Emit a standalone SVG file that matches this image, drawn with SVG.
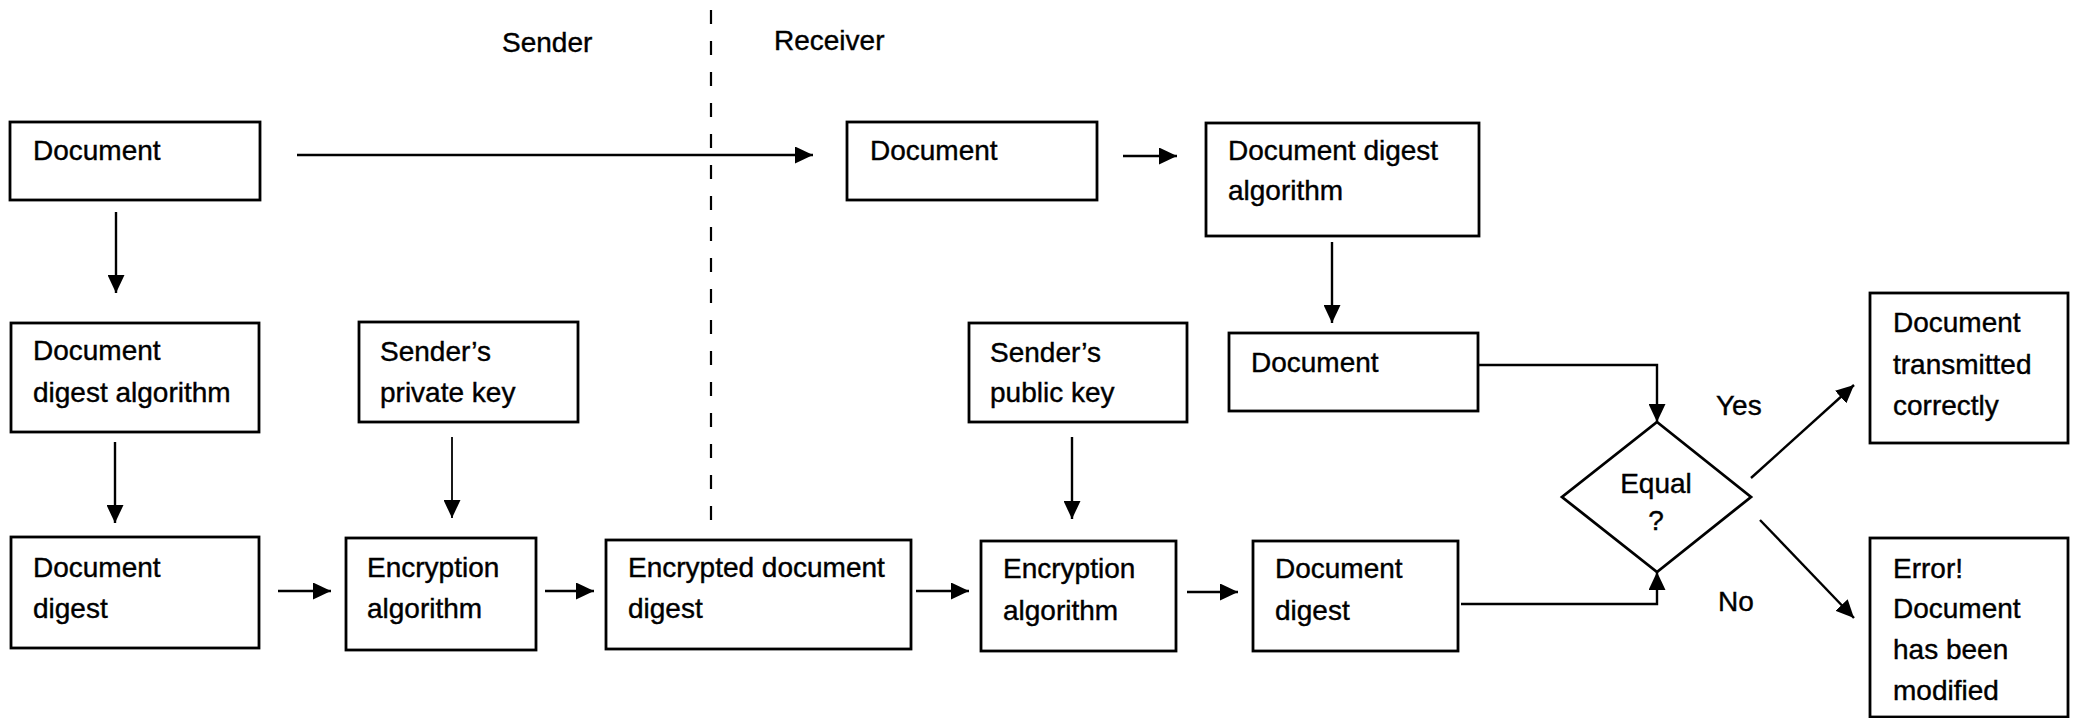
<svg xmlns="http://www.w3.org/2000/svg" width="2075" height="718" viewBox="0 0 2075 718">
<defs>
<style>
.box{fill:#fff;stroke:#000;stroke-width:2.8}
.t{font-family:"Liberation Sans",Arial,sans-serif;font-size:28px;fill:#000;stroke:#000;stroke-width:0.4}
.c{fill:none;stroke:#000;stroke-width:2.4}
.thin{stroke-width:1.8}
</style>
<marker id="ah" markerUnits="userSpaceOnUse" markerWidth="19" markerHeight="17" refX="18" refY="8.5" orient="auto">
<path d="M0,0 L18,8.5 L0,17 Z" fill="#000"/>
</marker>
</defs>
<rect width="2075" height="718" fill="#fff"/>
<g id="labels">
<text class="t" x="502" y="52">Sender</text>
<text class="t" x="774" y="50">Receiver</text>
<text class="t" x="1716" y="415">Yes</text>
<text class="t" x="1718" y="611">No</text>
</g>
<g id="divider">
<line x1="711" y1="10" x2="711" y2="537" stroke="#000" stroke-width="2.2" stroke-dasharray="14 17"/>
</g>
<g id="connectors">
<line class="c" x1="297" y1="155" x2="813" y2="155" marker-end="url(#ah)"/>
<line class="c" x1="1123" y1="156" x2="1177" y2="156" marker-end="url(#ah)"/>
<line class="c" x1="116" y1="212" x2="116" y2="293" marker-end="url(#ah)"/>
<line class="c" x1="115" y1="442" x2="115" y2="523" marker-end="url(#ah)"/>
<line class="c thin" x1="452" y1="437" x2="452" y2="518" marker-end="url(#ah)"/>
<line class="c" x1="278" y1="591" x2="331" y2="591" marker-end="url(#ah)"/>
<line class="c" x1="545" y1="591" x2="594" y2="591" marker-end="url(#ah)"/>
<line class="c" x1="916" y1="591" x2="969" y2="591" marker-end="url(#ah)"/>
<line class="c" x1="1072" y1="437" x2="1072" y2="519" marker-end="url(#ah)"/>
<line class="c" x1="1187" y1="592" x2="1238" y2="592" marker-end="url(#ah)"/>
<line class="c" x1="1332" y1="242" x2="1332" y2="323" marker-end="url(#ah)"/>
<path class="c" d="M1478,365 H1657 V422" marker-end="url(#ah)"/>
<path class="c" d="M1461,604 H1657 V572" marker-end="url(#ah)"/>
<line class="c" x1="1751" y1="478" x2="1854" y2="385" marker-end="url(#ah)"/>
<line class="c" x1="1760" y1="520" x2="1854" y2="618" marker-end="url(#ah)"/>
</g>
<g id="doc-sender">
<rect class="box" x="10" y="122" width="250" height="78"/>
<text class="t" x="33" y="160">Document</text>
</g>
<g id="digest-alg-sender">
<rect class="box" x="11" y="323" width="248" height="109"/>
<text class="t" x="33" y="360">Document</text>
<text class="t" x="33" y="402">digest algorithm</text>
</g>
<g id="digest-sender">
<rect class="box" x="11" y="537" width="248" height="111"/>
<text class="t" x="33" y="577">Document</text>
<text class="t" x="33" y="618">digest</text>
</g>
<g id="private-key">
<rect class="box" x="359" y="322" width="219" height="100"/>
<text class="t" x="380" y="361">Sender’s</text>
<text class="t" x="380" y="402">private key</text>
</g>
<g id="enc-alg-sender">
<rect class="box" x="346" y="538" width="190" height="112"/>
<text class="t" x="367" y="577">Encryption</text>
<text class="t" x="367" y="618">algorithm</text>
</g>
<g id="encrypted-digest">
<rect class="box" x="606" y="540" width="305" height="109"/>
<text class="t" x="628" y="577">Encrypted document</text>
<text class="t" x="628" y="618">digest</text>
</g>
<g id="doc-receiver">
<rect class="box" x="847" y="122" width="250" height="78"/>
<text class="t" x="870" y="160">Document</text>
</g>
<g id="digest-alg-receiver">
<rect class="box" x="1206" y="123" width="273" height="113"/>
<text class="t" x="1228" y="160">Document digest</text>
<text class="t" x="1228" y="200">algorithm</text>
</g>
<g id="public-key">
<rect class="box" x="969" y="323" width="218" height="99"/>
<text class="t" x="990" y="362">Sender’s</text>
<text class="t" x="990" y="402">public key</text>
</g>
<g id="doc-receiver-2">
<rect class="box" x="1229" y="333" width="249" height="78"/>
<text class="t" x="1251" y="372">Document</text>
</g>
<g id="enc-alg-receiver">
<rect class="box" x="981" y="541" width="195" height="110"/>
<text class="t" x="1003" y="578">Encryption</text>
<text class="t" x="1003" y="620">algorithm</text>
</g>
<g id="digest-receiver">
<rect class="box" x="1253" y="541" width="205" height="110"/>
<text class="t" x="1275" y="578">Document</text>
<text class="t" x="1275" y="620">digest</text>
</g>
<g id="equal">
<polygon class="box" points="1657,422 1751,497 1657,572 1562,497"/>
<text class="t" x="1656" y="493" text-anchor="middle">Equal</text>
<text class="t" x="1656" y="530" text-anchor="middle">?</text>
</g>
<g id="ok">
<rect class="box" x="1870" y="293" width="198" height="150"/>
<text class="t" x="1893" y="332">Document</text>
<text class="t" x="1893" y="374">transmitted</text>
<text class="t" x="1893" y="415">correctly</text>
</g>
<g id="error">
<rect class="box" x="1870" y="538" width="198" height="179"/>
<text class="t" x="1893" y="578">Error!</text>
<text class="t" x="1893" y="618">Document</text>
<text class="t" x="1893" y="659">has been</text>
<text class="t" x="1893" y="700">modified</text>
</g>
</svg>
